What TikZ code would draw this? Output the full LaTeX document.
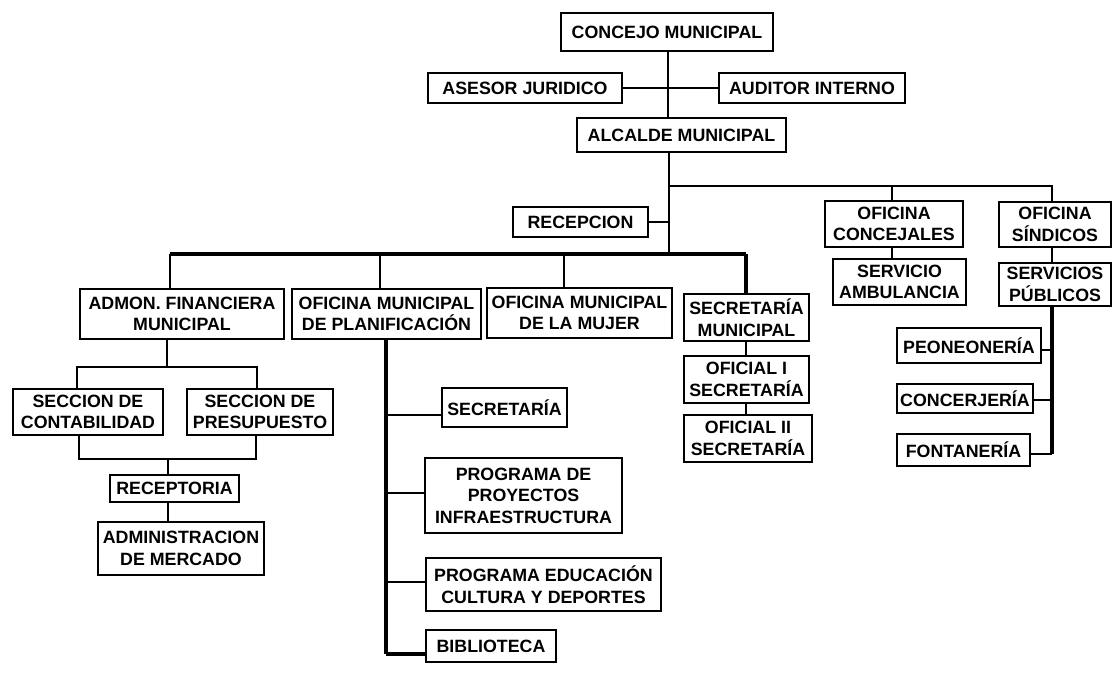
\documentclass[tikz,border=0pt]{standalone}
\usepackage{fontspec}
\setmainfont{Liberation Sans}
\tikzset{
  bx/.style={draw=black, line width=2.4pt, inner sep=0pt, align=center,
    font=\fontsize{17.8}{21.5}\selectfont\bfseries},
  ln/.style={draw=black, line width=2.2pt},
  bus/.style={draw=black, line width=3.2pt}
}
\newcommand\bx[6]{\node[bx, minimum width={#4-#2}, minimum height={#5-#3}] (#1) at ({(#2+#4)/2},{(#3+#5)/2}) {#6};}
\begin{document}
\begin{tikzpicture}[x=1pt,y=-1pt]
\useasboundingbox (0,0) rectangle (1115,697);
\fill[white] (0,0) rectangle (1115,697);
% boxes
\bx{concejo}{561}{13}{773}{51}{CONCEJO MUNICIPAL}
\bx{asesor}{428}{73}{622}{103}{ASESOR JURIDICO}
\bx{auditor}{719}{73}{905}{103}{AUDITOR INTERNO}
\bx{alcalde}{577}{118}{786}{152}{ALCALDE MUNICIPAL}
\bx{recepcion}{513}{207}{648}{237}{RECEPCION}
\bx{concejales}{825}{201}{963}{247}{OFICINA\\CONCEJALES}
\bx{sindicos}{999}{202}{1111}{247}{OFICINA\\SÍNDICOS}
\bx{ambulancia}{833}{259}{966}{305}{SERVICIO\\AMBULANCIA}
\bx{publicos}{999}{263}{1111}{306}{SERVICIOS\\PÚBLICOS}
\bx{admon}{80}{289}{284}{339}{ADMON. FINANCIERA\\MUNICIPAL}
\bx{planif}{292}{289}{481}{339}{OFICINA MUNICIPAL\\DE PLANIFICACIÓN}
\bx{mujer}{487}{288}{672}{338}{OFICINA MUNICIPAL\\DE LA MUJER}
\bx{secmun}{684}{294}{809}{341}{SECRETARÍA\\MUNICIPAL}
\bx{ofuno}{684}{356}{809}{403}{OFICIAL I\\SECRETARÍA}
\bx{ofdos}{684}{415}{812}{462}{OFICIAL II\\SECRETARÍA}
\bx{contab}{13}{389}{163}{435}{SECCION DE\\CONTABILIDAD}
\bx{presup}{187}{389}{333}{435}{SECCION DE\\PRESUPUESTO}
\bx{receptoria}{110}{475}{239}{502}{RECEPTORIA}
\bx{mercado}{98}{522}{264}{575}{ADMINISTRACION\\DE MERCADO}
\bx{secret}{442}{388}{567}{427}{SECRETARÍA}
\bx{proyectos}{425}{458}{622}{533}{PROGRAMA DE\\PROYECTOS\\INFRAESTRUCTURA}
\bx{educacion}{426}{558}{661}{611}{PROGRAMA EDUCACIÓN\\CULTURA Y DEPORTES}
\bx{biblioteca}{426}{630}{556}{662}{BIBLIOTECA}
\bx{peon}{897}{328}{1041}{363}{PEONEONERÍA}
\bx{concer}{897}{384}{1033}{413}{CONCERJERÍA}
\bx{fontan}{897}{434}{1030}{466}{FONTANERÍA}
% junction coordinates
\coordinate (vtop) at (668,0);
\coordinate (valc) at (669,0);
\coordinate (upbar) at (669,186);
\coordinate (mainbar) at (669,254);
\coordinate (mainL) at (170,254);
\coordinate (mainR) at (746,254);
\coordinate (xplan) at (380,0);
\coordinate (xmuj) at (564,0);
\coordinate (xconc) at (892,0);
\coordinate (xsind) at (1052,0);
\coordinate (admbar) at (167,367);
\coordinate (admL) at (77,367);
\coordinate (admR) at (257,367);
\coordinate (secbar) at (168,459);
\coordinate (secL) at (79,459);
\coordinate (secR) at (256,459);
\coordinate (xpv) at (386,0);
\coordinate (pvbot) at (386,654);
\coordinate (xsecm) at (746,0);
\coordinate (spbot) at (1052,454);
% top connectors
\draw[ln] (concejo.south -| vtop) -- (alcalde.north -| vtop);
\draw[ln] (asesor.east) -- (auditor.west);
\draw[ln] (alcalde.south -| valc) -- (mainbar);
\draw[ln] (upbar) -- (upbar -| xsind) -- (sindicos.north -| xsind);
\draw[ln] (upbar -| xconc) -- (concejales.north -| xconc);
\draw[ln] (concejales.south -| xconc) -- (ambulancia.north -| xconc);
\draw[ln] (sindicos.south -| xsind) -- (publicos.north -| xsind);
\draw[ln] (recepcion.east) -- (recepcion.east -| valc);
% main bar
\draw[bus] (mainL) -- (mainR);
\draw[ln] (mainL) -- (admon.north -| mainL);
\draw[ln] (mainbar -| xplan) -- (planif.north -| xplan);
\draw[ln] (mainbar -| xmuj) -- (mujer.north -| xmuj);
\draw[bus] (mainR) -- (secmun.north -| mainR);
% admon subtree
\draw[ln] (admon.south -| admbar) -- (admbar);
\draw[ln] (contab.north -| admL) -- (admL) -- (admR) -- (presup.north -| admR);
\draw[ln] (contab.south -| secL) -- (secL) -- (secR) -- (presup.south -| secR);
\draw[ln] (secbar) -- (receptoria.north -| secbar);
\draw[ln] (receptoria.south -| secbar) -- (mercado.north -| secbar);
% planificacion subtree
\draw[bus] (planif.south -| xpv) -- (pvbot);
\draw[ln] (secret.west |- 0,415) -- (xpv |- 0,415);
\draw[ln] (proyectos.west |- 0,493) -- (xpv |- 0,493);
\draw[ln] (educacion.west |- 0,582) -- (xpv |- 0,582);
\draw[bus] (biblioteca.west |- pvbot) -- (pvbot);
% secretaria municipal subtree
\draw[ln] (secmun.south -| xsecm) -- (ofuno.north -| xsecm);
\draw[ln] (ofuno.south -| xsecm) -- (ofdos.north -| xsecm);
% servicios publicos subtree
\draw[bus] (publicos.south -| xsind) -- (spbot);
\draw[ln] (peon.east |- 0,350) -- (xsind |- 0,350);
\draw[ln] (concer.east |- 0,400) -- (xsind |- 0,400);
\draw[ln] (fontan.east |- spbot) -- (spbot);
\end{tikzpicture}
\end{document}
